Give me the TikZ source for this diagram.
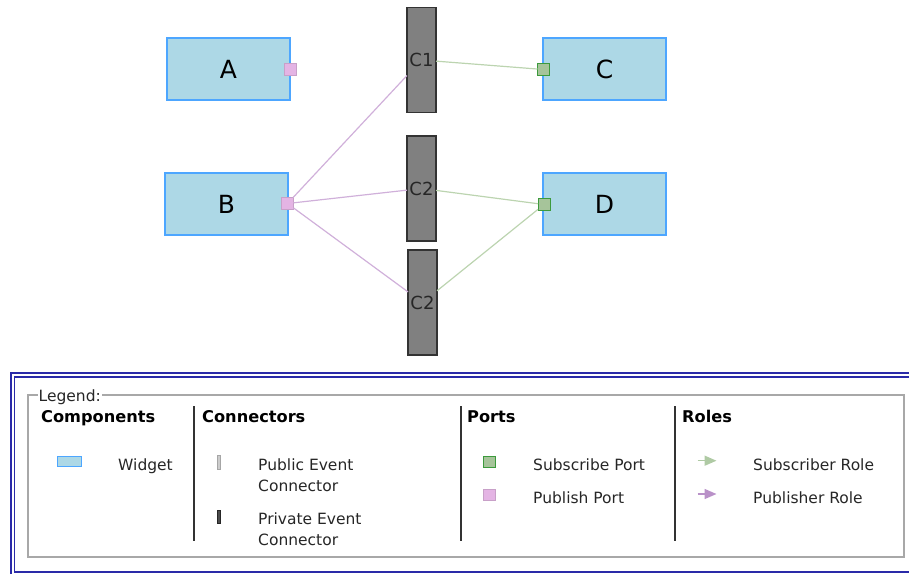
\documentclass[tikz,border=0pt]{standalone}
\usepackage{fontspec}
\setmainfont{DejaVu Sans}
\usetikzlibrary{arrows.meta}
\definecolor{wfill}{HTML}{ADD8E6}
\definecolor{wdraw}{HTML}{4DA6FF}
\definecolor{pfill}{HTML}{E4B4E4}
\definecolor{pdraw}{HTML}{C8A0C8}
\definecolor{sfill}{HTML}{A6C49A}
\definecolor{sdraw}{HTML}{3C9A3C}
\definecolor{cfill}{HTML}{808080}
\definecolor{cdraw}{HTML}{333333}
\definecolor{pline}{HTML}{D0B0DA}
\definecolor{sline}{HTML}{BCD4B0}
\definecolor{navy}{HTML}{2A2AA8}
\definecolor{gbox}{HTML}{A8A8A8}
\tikzset{
  x=1pt,y=-1pt,
  widget/.style={draw=wdraw,fill=wfill,line width=1.2pt,minimum width=123pt,minimum height=62pt,inner sep=0pt,outer sep=0pt,font=\fontsize{25}{28}\selectfont},
  pubport/.style={draw=pdraw,fill=pfill,line width=1pt,minimum size=12pt,inner sep=0pt,outer sep=0pt},
  subport/.style={draw=sdraw,fill=sfill,line width=1pt,minimum size=12pt,inner sep=0pt,outer sep=0pt},
  conn/.style={draw=cdraw,fill=cfill,line width=1.2pt,minimum width=29pt,minimum height=105pt,inner sep=0pt,outer sep=0pt,text=black!85,font=\fontsize{18}{20}\selectfont},
  publine/.style={draw=pline,line width=1.2pt},
  subline/.style={draw=sline,line width=1.2pt},
  legtext/.style={anchor=base west,inner sep=0pt,font=\fontsize{15.5}{21}\selectfont,text=black!85,align=left},
  leghead/.style={anchor=base west,inner sep=0pt,font=\fontsize{16.2}{21}\selectfont\bfseries},
  sep/.style={draw=black!80,line width=1.2pt},
}
\begin{document}
\begin{tikzpicture}
\useasboundingbox (0,0) rectangle (909,573);
% components
\node[widget] (A) at (228.5,69) {A};
\node[widget] (B) at (226.5,204) {B};
\node[widget] (C) at (604.5,69) {C};
\node[widget] (D) at (604.5,204) {D};
\node[pubport] (Ap) at (290,69) {};
\node[pubport] (Bp) at (287.5,203.5) {};
\node[subport] (Cp) at (543.5,69.5) {};
\node[subport] (Dp) at (544,204.5) {};
\node[conn] (C1) at (421.5,60) {C1};
\node[conn] (C2a) at (421.5,188.5) {C2};
\node[conn] (C2b) at (422.5,302.5) {C2};
% connectors
\draw[publine] (Bp) -- (C1);
\draw[publine] (Bp) -- (C2a);
\draw[publine] (Bp) -- (C2b);
\draw[subline] (C1) -- (Cp);
\draw[subline] (C2a) -- (Dp);
\draw[subline] (C2b) -- (Dp);
% legend frame
\draw[navy,line width=1.3pt] (11,373) rectangle (918,578);
\draw[navy,line width=1.3pt] (14.5,377) rectangle (915,572);
\draw[gbox,line width=1.2pt] (28,395) rectangle (904,557);
\node[anchor=base west,fill=white,inner sep=1pt,font=\fontsize{15.5}{18}\selectfont,text=black!85] (lg) at (37.5,401.7) {Legend:};
% headers
\node[leghead] (h1) at (41,422.3) {Components};
\node[leghead] (h2) at (202,422.3) {Connectors};
\node[leghead] (h3) at (467,422.3) {Ports};
\node[leghead] (h4) at (682,422.3) {Roles};
\draw[sep] (194,406) -- (194,541);
\draw[sep] (461,406) -- (461,541);
\draw[sep] (675,406) -- (675,541);
% items
\draw[draw=wdraw,fill=wfill,line width=1pt] (57,456) rectangle (81,466.5);
\node[legtext] (t1) at (118,470.7) {Widget};
\draw[draw=black!35,fill=black!20,line width=0.8pt] (217.5,455.5) rectangle (220.5,469);
\node[legtext] (t2) at (258,470.7) {Public Event};
\node[legtext] (t2b) at (258,491.7) {Connector};
\draw[draw=black!85,fill=black!70,line width=0.8pt] (217.5,510) rectangle (220.5,523.5);
\node[legtext] (t3) at (258,524) {Private Event};
\node[legtext] (t3b) at (258,545) {Connector};
\draw[subport] (483,456) rectangle (495,467.5);
\node[legtext] (t4) at (533,470.7) {Subscribe Port};
\draw[pubport] (483,489) rectangle (495,500.5);
\node[legtext] (t5) at (533,503.3) {Publish Port};
\draw[sfill!90!white,line width=1.5pt,-{Triangle[length=12pt,width=10pt]}] (697.5,460.7) -- (716.5,460.7);
\node[legtext] (t6) at (753,470.7) {Subscriber Role};
\draw[color={rgb,255:red,185;green,145;blue,200},line width=1.5pt,-{Triangle[length=12pt,width=10pt]}] (697.5,494) -- (716.5,494);
\node[legtext] (t7) at (753,503.3) {Publisher Role};
\end{tikzpicture}
\end{document}
